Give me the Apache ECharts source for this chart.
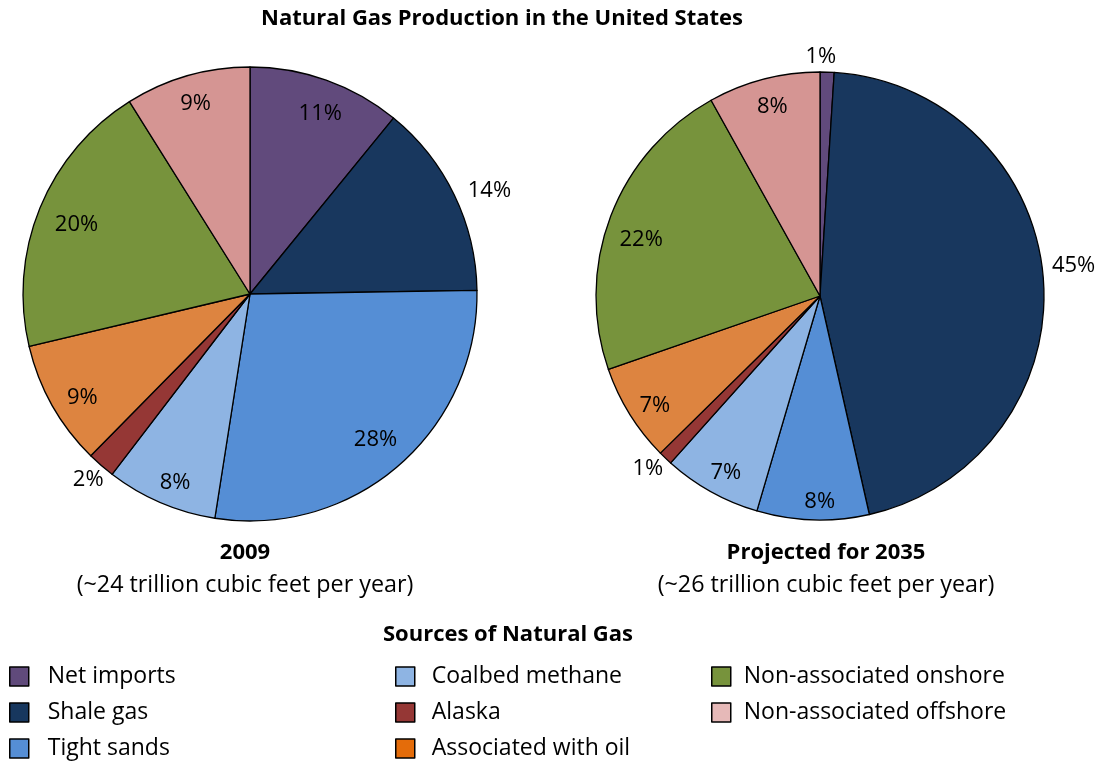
<!DOCTYPE html>
<html><head><meta charset="utf-8">
<script src="https://cdn.jsdelivr.net/npm/echarts@6/dist/echarts.min.js"></script>
<style>html,body{margin:0;padding:0;background:#fff}#c{width:1104px;height:761px}</style>
</head><body><div id="c"></div>
<script>
// ---- data ----
const categories = ['Net imports','Shale gas','Tight sands','Coalbed methane','Alaska','Associated with oil','Non-associated onshore','Non-associated offshore'];
const values2009 = [11,14,28,8,2,9,20,9];
const values2035 = [1,45,8,7,1,7,22,8];
const outsideLabels2009 = ['Shale gas','Alaska'];
const outsideLabels2035 = ['Net imports','Shale gas','Alaska'];
const legendColumns = [[0,1,2],[3,4,5],[6,7]];

// ---- style ----
const sliceColors = ['#614A7C','#18375E','#558ED5','#8EB4E3','#953735','#DD8440','#77933C','#D59593'];
const legendColors = ['#604A7B','#17375E','#558ED5','#8EB4E3','#953735','#E46C0A','#77933C','#E6B9B8'];
const FONT = 'Open Sans';
// small label nudges [dx, dy] in px (label placement style only)
const nudge2009 = {'Net imports':[3,9],'Shale gas':[12,7],'Tight sands':[-6,-6],'Coalbed methane':[4,4],'Alaska':[4,-5],'Associated with oil':[7,5],'Non-associated onshore':[12,7],'Non-associated offshore':[1,2]};
const nudge2035 = {'Net imports':[-7,10],'Shale gas':[5,-11],'Tight sands':[6,8],'Coalbed methane':[2,4],'Alaska':[0,-8],'Associated with oil':[3,5],'Non-associated onshore':[6,14],'Non-associated offshore':[2,2]};

function pieSeries(center, r, values, outsideNames, nudges) {
  const layoutFn = (p)=>{ const n = nudges[categories[p.dataIndex]] || [0,0]; return {dx:n[0], dy:n[1]}; };
  const base = {type:'pie', center:center, startAngle:90, clockwise:true, avoidLabelOverlap:false,
    animation:false, emphasis:{disabled:true}, labelLine:{show:false}};
  const main = Object.assign({}, base, {
    radius:[0, r],
    itemStyle:{borderColor:'#000', borderWidth:1.3},
    label:{show:false},
    data: categories.map((n,i)=>({name:n, value:values[i], itemStyle:{color:sliceColors[i]}}))
  });
  const lbl = (show)=>({show:show, position:'inside', formatter:'{c}%', fontSize:22, fontFamily:FONT,
    color:'#000', textBorderWidth:0});
  const inner = Object.assign({}, base, {
    radius:[r*0.74, r], silent:true, labelLayout:layoutFn,
    itemStyle:{color:'rgba(0,0,0,0)', borderWidth:0},
    data: categories.map((n,i)=>({name:n, value:values[i], label:lbl(outsideNames.indexOf(n)<0)}))
  });
  const outer = Object.assign({}, base, {
    radius:[r, r*1.2], silent:true, labelLayout:layoutFn,
    itemStyle:{color:'rgba(0,0,0,0)', borderWidth:0},
    data: categories.map((n,i)=>({name:n, value:values[i], label:lbl(outsideNames.indexOf(n)>=0)}))
  });
  return [main, inner, outer];
}

const txt = (t, x, y, size, bold)=>({type:'text', x:x, y:y, silent:true,
  style:{text:t, fill:'#000', font:(bold?'bold ':'')+size+'px "'+FONT+'"', align:'center', verticalAlign:'middle', textAlign:'center', textVerticalAlign:'middle'}});

const chart = echarts.init(document.getElementById('c'));
chart.setOption({
  backgroundColor:'#fff',
  animation:false,
  graphic:[
    txt('Natural Gas Production in the United States', 502, 19, 22, true),
    txt('2009', 245, 553, 22, true),
    txt('(~24 trillion cubic feet per year)', 245, 585, 23.3, false),
    txt('Projected for 2035', 826, 553, 22, true),
    txt('(~26 trillion cubic feet per year)', 826, 585, 23.3, false),
    txt('Sources of Natural Gas', 508, 635, 22, true)
  ],
  legend: legendColumns.map((idx, col)=>({
    orient:'vertical', left:[9,395,711][col], top:665, height:150, padding:0,
    itemWidth:19, itemHeight:19, itemGap:13, icon:'rect', selectedMode:false,
    itemStyle:{borderColor:'#000', borderWidth:1.5},
    textStyle:{fontSize:23, fontFamily:FONT, color:'#000', padding:[0,0,0,[14,12,8][col]], lineHeight:19},
    data: idx.map(i=>({name:categories[i], itemStyle:{color:legendColors[i], borderColor:'#000', borderWidth:1.5}}))
  })),
  series: [].concat(
    pieSeries([250, 294], 227, values2009, outsideLabels2009, nudge2009),
    pieSeries([820, 296], 224, values2035, outsideLabels2035, nudge2035)
  )
});
</script></body></html>
